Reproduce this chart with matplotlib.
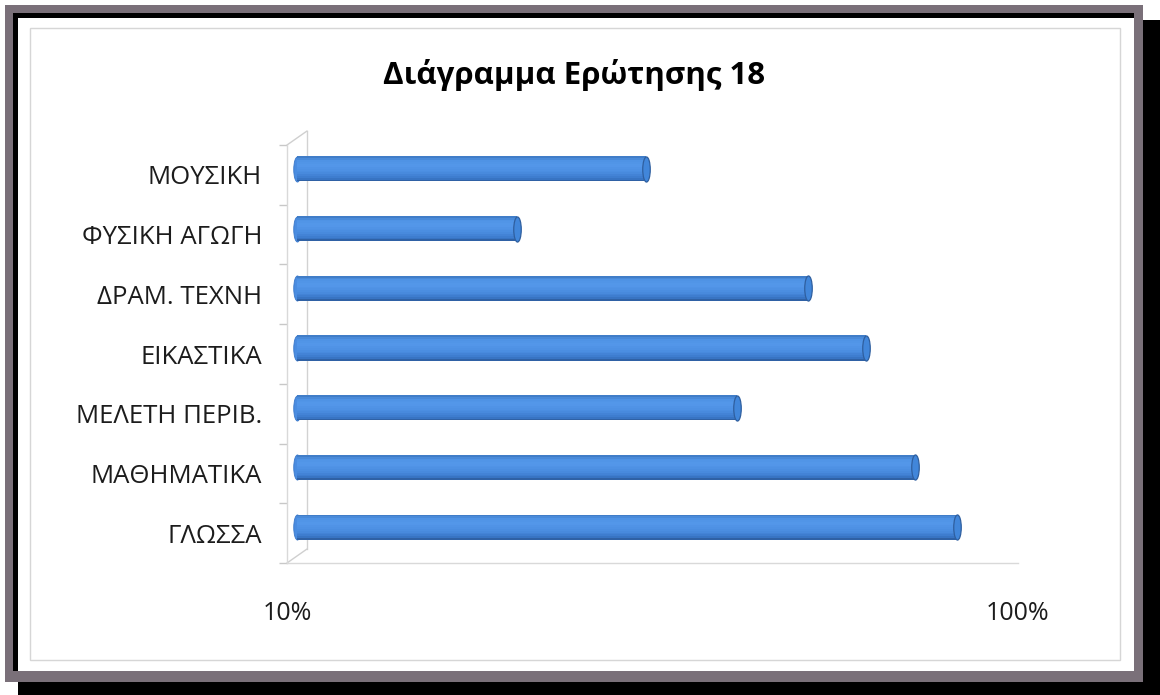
import matplotlib
matplotlib.use("Agg")
import matplotlib.pyplot as plt
from matplotlib.patches import Rectangle, ConnectionPatch
from matplotlib.path import Path
from matplotlib.transforms import ScaledTranslation
from matplotlib.ticker import FixedLocator, NullLocator
from matplotlib.colors import LinearSegmentedColormap
import numpy as np

plt.rcParams['font.family'] = ['Open Sans', 'DejaVu Sans']

# data (bottom to top)
subjects = ['ΓΛΩΣΣΑ', 'ΜΑΘΗΜΑΤΙΚΑ', 'ΜΕΛΕΤΗ ΠΕΡΙΒ.', 'ΕΙΚΑΣΤΙΚΑ',
            'ΔΡΑΜ. ΤΕΧΝΗ', 'ΦΥΣΙΚΗ ΑΓΩΓΗ', 'ΜΟΥΣΙΚΗ']
shares = [0.80, 0.70, 0.40, 0.60, 0.50, 0.20, 0.30]
x_ticks = [0.1, 1.0]
x_tick_labels = ['10%', '100%']
title = 'Διάγραμμα Ερώτησης 18'

W, H = 1160, 695
fig = plt.figure(figsize=(W / 100, H / 100), dpi=100)
fig.patch.set_facecolor('white')


def px_rect(x0, y0, x1, y1, **kw):
    # rectangle given in pixel coords measured from the top-left corner
    r = Rectangle((x0 / W, 1 - y1 / H), (x1 - x0) / W, (y1 - y0) / H,
                  transform=fig.transFigure, zorder=-10, **kw)
    fig.add_artist(r)
    return r


# framed panel with drop shadow
px_rect(18, 20, 1160, 695, facecolor='black', edgecolor='none')
px_rect(5, 5, 1143, 682, facecolor='#7a7079', edgecolor='none')
px_rect(13, 13, 1134, 671, facecolor='black', edgecolor='none')
px_rect(18, 18, 1134, 671, facecolor='white', edgecolor='none')
px_rect(30, 28, 1120, 660, facecolor='none', edgecolor='#d6d6d6', linewidth=1)

ax_l, ax_t, ax_r, ax_b = 287, 145, 1018, 563
ax = fig.add_axes([ax_l / W, 1 - ax_b / H, (ax_r - ax_l) / W, (ax_b - ax_t) / H])
ax.patch.set_visible(False)
ax.set_xscale('log')
ax.set_xlim(0.1, 1.0)
n = len(subjects)
ax.set_ylim(-0.5, n - 0.5)

# 3d look: bars sit a bit behind the front plane, back wall further still
bar_tr = ax.transData + ScaledTranslation(0.10, 0.06, fig.dpi_scale_trans)
wall_tr = ax.transData + ScaledTranslation(0.20, 0.14, fig.dpi_scale_trans)

ypos = np.arange(n)
h = 0.42
bar_pt = h * (ax_b - ax_t) / n * 72 / 100

# cylinder shading: thin horizontal strips, bottom to top
shade = LinearSegmentedColormap.from_list(
    'cyl', [(0.0, '#2a5796'), (0.12, '#3a78c9'), (0.35, '#4a8ce0'),
            (0.65, '#5498ea'), (0.85, '#4e92e4'), (1.0, '#3c76c0')])
k = 14
for i in range(k):
    lo = -0.5 + i / k
    ax.barh(ypos + (lo + 0.5 / k) * h, [v - 0.1 for v in shares], left=0.1,
            height=h / k * 1.05, color=shade((i + 0.5) / k), linewidth=0,
            transform=bar_tr, zorder=3)

# elliptical end caps
circ = Path.unit_circle()
cap = Path(circ.vertices * np.array([0.30, 1.0]), circ.codes)
ax.plot([0.1] * n, ypos, linestyle='none', marker=cap, markersize=bar_pt,
        markerfacecolor='#4a8ce0', markeredgecolor='#3a78c9',
        markeredgewidth=0.6, transform=bar_tr, zorder=2)
ax.plot(shares, ypos, linestyle='none', marker=cap, markersize=bar_pt,
        markerfacecolor='#4186da', markeredgecolor='#2f5f9f',
        markeredgewidth=0.9, transform=bar_tr, zorder=4)

# back wall and depth edges
ax.plot([0.1, 0.1], [-0.5, n - 0.5], color='#d2d2d2', lw=1,
        transform=wall_tr, clip_on=False, zorder=1)
for yy in (-0.5, n - 0.5):
    ax.add_artist(ConnectionPatch(xyA=(0.1, yy), coordsA=ax.transData,
                                  xyB=(0.1, yy), coordsB=wall_tr,
                                  color='#cfcfcf', lw=1, zorder=1))

for s in ('top', 'right'):
    ax.spines[s].set_visible(False)
for s in ('left', 'bottom'):
    ax.spines[s].set_color('#d9d9d9')
    ax.spines[s].set_linewidth(1)

ax.set_yticks(ypos)
ax.set_yticklabels(subjects, fontsize=18.5, color='#1c1c1c')
ax.yaxis.set_minor_locator(FixedLocator(np.arange(-0.5, n, 1.0)))
ax.tick_params(axis='y', which='major', length=0, pad=18)
ax.tick_params(axis='y', which='minor', length=6, color='#c8c8c8', width=1)

ax.xaxis.set_major_locator(FixedLocator(x_ticks))
ax.xaxis.set_minor_locator(NullLocator())
ax.set_xticklabels(x_tick_labels, fontsize=18, color='#1c1c1c')
ax.tick_params(axis='x', which='major', length=0, pad=27)

fig.text(574 / W, 1 - 75 / H, title, ha='center', va='center',
         fontsize=22.5, fontweight='bold', color='black')

fig.savefig('out.png', dpi=100)
